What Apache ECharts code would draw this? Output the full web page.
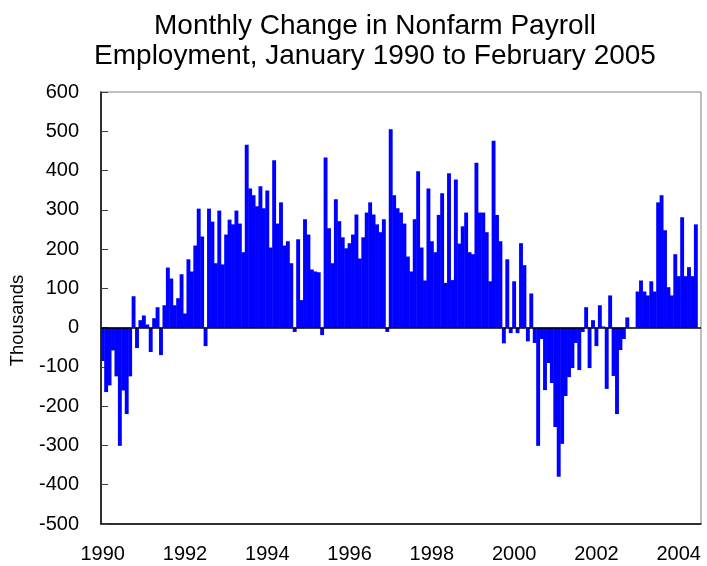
<!DOCTYPE html>
<html>
<head>
<meta charset="utf-8">
<script src="https://cdn.jsdelivr.net/npm/echarts@6/dist/echarts.min.js"></script>
<style>
html,body{margin:0;padding:0;background:#fff;}
#chart{width:707px;height:566px;}
</style>
</head>
<body>
<div id="chart"></div>
<script>
// Monthly change in nonfarm payroll employment (thousands)
var payrollChange = [
  -85, -164, -147, -58, -124, -301, -160, -220, -124, 80, -52, 19,
  31, 8, -62, 24, 52, -70, 57, 153, 125, 57, 75, 136,
  36, 174, 143, 209, 303, 232, -47, 303, 270, 164, 298, 161,
  237, 275, 263, 298, 265, 192, 466, 354, 337, 309, 360, 304,
  349, 204, 426, 265, 319, 209, 220, 164, -11, 225, 70, 276,
  237, 148, 143, 141, -19, 433, 253, 164, 327, 271, 230, 202,
  215, 237, 288, 176, 230, 293, 319, 288, 263, 243, 276, -11,
  505, 337, 304, 293, 265, 181, 143, 276, 398, 204, 120, 354,
  220, 192, 287, 342, 114, 393, 121, 377, 214, 258, 293, 192,
  187, 420, 293, 293, 243, 118, 476, 287, 220, -40, 174, -14,
  118, -14, 215, 159, -35, 87, -39, -301, -29, -159, -90, -141,
  -253, -380, -296, -174, -126, -103, -39, -108, -11, 52, -103, 19,
  -47, 57, 3, -156, 82, -123, -220, -57, -29, 26, 0, 0,
  92, 120, 92, 82, 118, 92, 319, 337, 248, 103, 82, 187,
  131, 281, 131, 154, 131, 263
];
var startYear = 1990;
var slotCount = 175;            // category slots on the axis
var labelEvery = 24;            // a year label every two years
var yMin = -500, yMax = 600, yStep = 100;
var titleLines = ['Monthly Change in Nonfarm Payroll', 'Employment, January 1990 to February 2005'];
var yAxisTitle = 'Thousands';

var months = [];
for (var i = 0; i < slotCount; i++) {
  var y = startYear + Math.floor(i / 12);
  var m = (i % 12) + 1;
  months.push(y + '-' + (m < 10 ? '0' + m : m));
}

var FONT = 'Liberation Sans, Arial, Helvetica, sans-serif';
var chart = echarts.init(document.getElementById('chart'), null, {renderer: 'canvas'});
chart.setOption({
  backgroundColor: '#ffffff',
  animation: false,
  title: {
    text: titleLines.join('\n'),
    left: 370,
    top: 6,
    textAlign: 'center',
    textStyle: {
      fontFamily: FONT, fontSize: 28, fontWeight: 'normal', color: '#000', lineHeight: 30
    }
  },
  grid: {
    left: 101, right: 6, top: 92, bottom: 42,
    show: true, borderColor: '#808080', borderWidth: 1, backgroundColor: 'transparent'
  },
  xAxis: {
    type: 'category',
    data: months,
    boundaryGap: true,
    axisLine: {onZero: false, lineStyle: {color: '#000', width: 1.5}},
    axisTick: {show: false},
    axisLabel: {
      interval: labelEvery - 1,
      margin: 20,
      fontFamily: FONT, fontSize: 20, color: '#000',
      formatter: function (v) { return v.split('-')[0]; }
    },
    splitLine: {show: false}
  },
  yAxis: {
    type: 'value',
    min: yMin, max: yMax, interval: yStep,
    name: yAxisTitle,
    nameLocation: 'middle',
    nameRotate: 90,
    nameGap: 74,
    nameTextStyle: {fontFamily: FONT, fontSize: 18.5, color: '#000', padding: [0, 25, 0, 0]},
    axisLine: {show: true, lineStyle: {color: '#000', width: 1.5}},
    axisTick: {show: true, inside: true, length: 7, lineStyle: {color: '#404040', width: 1}},
    axisLabel: {margin: 22, fontFamily: FONT, fontSize: 20, color: '#000'},
    splitLine: {show: false}
  },
  series: [{
    type: 'bar',
    data: payrollChange,
    barWidth: 3.9,
    itemStyle: {color: '#0000FF'},
    markLine: {
      silent: true,
      symbol: 'none',
      label: {show: false},
      lineStyle: {color: '#000', width: 1.5, type: 'solid'},
      data: [{yAxis: 0}]
    }
  }]
});
</script>
</body>
</html>
